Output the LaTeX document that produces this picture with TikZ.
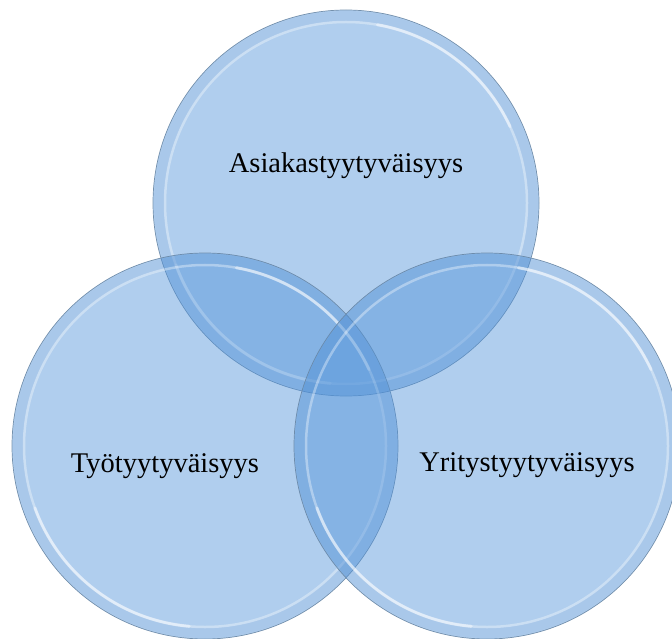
\documentclass[tikz,border=0pt]{standalone}
\usepackage{fontspec}
\setmainfont{Liberation Serif}
\definecolor{bubblefill}{RGB}{80,146,217}
\definecolor{bubbleedge}{RGB}{105,135,165}
\definecolor{rimshade}{RGB}{60,110,170}
\tikzset{
  bubble/.style={circle, minimum size=386bp, inner sep=0pt, fill=bubblefill, fill opacity=0.45, draw=bubbleedge, draw opacity=0.9, line width=0.7bp},
  rimband/.style={draw=rimshade, draw opacity=0.06, line width=10bp},
  rimshine/.style={draw=white, draw opacity=0.35, line width=2.5bp},
  rimglint/.style={draw=white, draw opacity=0.45, line width=3bp, line cap=round},
  label/.style={anchor=base, text=black, font=\fontsize{28.5bp}{30bp}\selectfont, inner sep=0pt}
}
\begin{document}
\begin{tikzpicture}[x=1bp,y=-1bp]
\useasboundingbox (0,0) rectangle (672,639);
% three overlapping translucent discs, each with a glassy rim
\foreach \nm/\cx/\cy in {asiakas/346/203, tyo/205/446, yritys/487/446}{
  \node[bubble] (\nm) at (\cx,\cy) {};
  \draw[rimband] (\nm.center) circle[radius=187bp];
  \draw[rimshine] (\nm.center) circle[radius=181bp];
  % brighter glint on the upper left and lower right of the rim
  \draw[rimglint] ([shift={(-160:181bp)}]\nm.center) arc[start angle=-160, end angle=-95, radius=181bp];
  \draw[rimglint] ([shift={(25:181bp)}]\nm.center) arc[start angle=25, end angle=80, radius=181bp];
}
% captions
\node[label] (ta) at (346,173) {Asiakastyytyväisyys};
\node[label] (tt) at (165,472) {Työtyytyväisyys};
\node[label] (ty) at (527,471) {Yritystyytyväisyys};
\end{tikzpicture}
\end{document}
